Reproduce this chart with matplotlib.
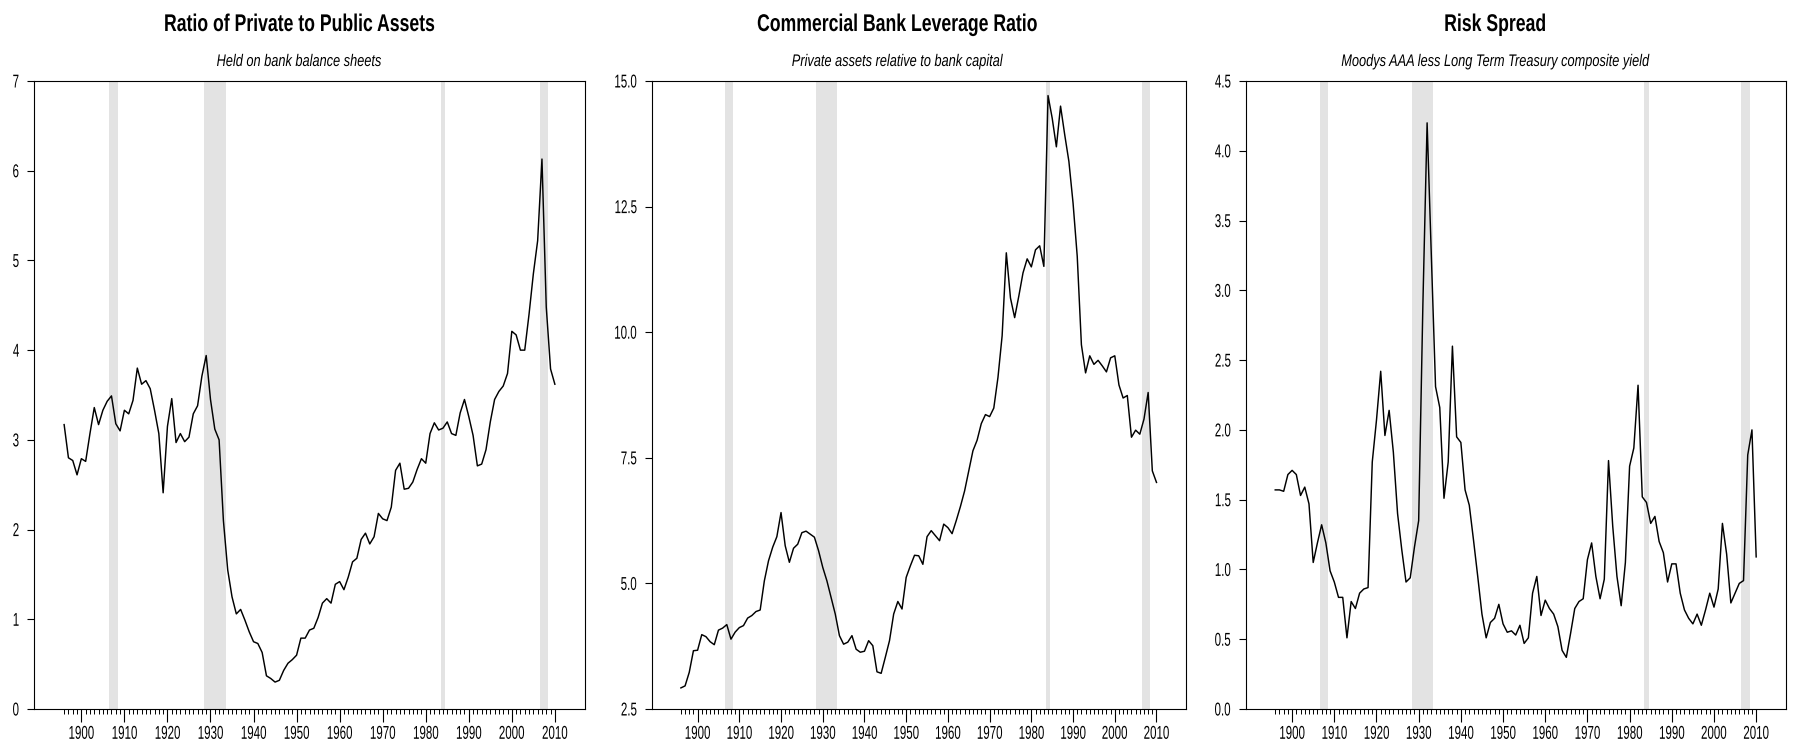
import matplotlib
matplotlib.use("Agg")
import matplotlib.pyplot as plt
from matplotlib.patheffects import AbstractPathEffect
from matplotlib.path import Path
from matplotlib.transforms import Affine2D
from matplotlib.ticker import FixedLocator, FormatStrFormatter

plt.rcParams['font.family'] = ['Liberation Sans', 'DejaVu Sans']

# ---------------------------------------------------------------- data
years = list(range(1896, 2011))

private_public = [
    3.17, 2.80, 2.77, 2.61,
    2.79, 2.76, 3.07, 3.36, 3.17, 3.33, 3.43, 3.49, 3.18, 3.10,
    3.33, 3.29, 3.44, 3.80, 3.62, 3.66, 3.57, 3.33, 3.07, 2.41,
    3.15, 3.46, 2.97, 3.07, 2.98, 3.03, 3.29, 3.38, 3.71, 3.94,
    3.45, 3.12, 3.00, 2.10, 1.55, 1.25, 1.06, 1.11, 0.99, 0.86,
    0.75, 0.73, 0.63, 0.37, 0.34, 0.30, 0.32, 0.43, 0.51, 0.55,
    0.60, 0.79, 0.79, 0.88, 0.90, 1.02, 1.18, 1.23, 1.18, 1.39,
    1.42, 1.33, 1.47, 1.64, 1.68, 1.89, 1.96, 1.84, 1.92, 2.18,
    2.12, 2.10, 2.25, 2.66, 2.74, 2.45, 2.46, 2.53, 2.67, 2.79,
    2.74, 3.07, 3.19, 3.11, 3.13, 3.20, 3.07, 3.05, 3.30, 3.45,
    3.26, 3.05, 2.71, 2.73, 2.89, 3.20, 3.45, 3.54, 3.60, 3.74,
    4.21, 4.17, 4.00, 4.00, 4.40, 4.85, 5.22, 6.13, 4.48, 3.79, 3.62,
]

leverage = [
    2.92, 2.96, 3.23, 3.66,
    3.67, 3.98, 3.94, 3.84, 3.78, 4.07, 4.11, 4.18, 3.89, 4.03,
    4.12, 4.16, 4.31, 4.36, 4.44, 4.47, 5.05, 5.45, 5.72, 5.93,
    6.41, 5.75, 5.42, 5.70, 5.78, 6.01, 6.04, 5.98, 5.92, 5.65,
    5.32, 5.05, 4.72, 4.39, 3.96, 3.79, 3.83, 3.96, 3.69, 3.63,
    3.65, 3.86, 3.76, 3.24, 3.21, 3.53, 3.86, 4.39, 4.64, 4.49,
    5.12, 5.35, 5.56, 5.55, 5.38, 5.93, 6.05, 5.95, 5.85, 6.18,
    6.11, 5.99, 6.25, 6.53, 6.84, 7.24, 7.64, 7.85, 8.18, 8.36,
    8.32, 8.49, 9.10, 9.93, 11.58, 10.68, 10.29, 10.72, 11.18, 11.46,
    11.30, 11.64, 11.72, 11.31, 14.71, 14.26, 13.69, 14.50, 13.93, 13.40,
    12.57, 11.51, 9.75, 9.19, 9.53, 9.36, 9.44, 9.33, 9.21, 9.49,
    9.53, 8.95, 8.69, 8.74, 7.91, 8.05, 7.97, 8.27, 8.80, 7.24, 7.01,
]

risk_spread = [
    1.57, 1.57, 1.56, 1.68,
    1.71, 1.68, 1.53, 1.59, 1.47, 1.05, 1.19, 1.32, 1.19, 0.99,
    0.91, 0.80, 0.80, 0.51, 0.77, 0.72, 0.83, 0.86, 0.87, 1.77,
    2.07, 2.42, 1.96, 2.14, 1.84, 1.40, 1.14, 0.91, 0.94, 1.16,
    1.35, 2.90, 4.20, 3.25, 2.31, 2.16, 1.51, 1.77, 2.60, 1.95,
    1.91, 1.57, 1.46, 1.21, 0.95, 0.68, 0.51, 0.62, 0.65, 0.75,
    0.61, 0.55, 0.56, 0.53, 0.60, 0.47, 0.51, 0.83, 0.95, 0.67,
    0.78, 0.72, 0.68, 0.59, 0.42, 0.37, 0.54, 0.72, 0.77, 0.79,
    1.07, 1.19, 0.95, 0.79, 0.93, 1.78, 1.31, 0.95, 0.74, 1.05,
    1.74, 1.87, 2.32, 1.52, 1.48, 1.33, 1.38, 1.20, 1.12, 0.91,
    1.04, 1.04, 0.83, 0.71, 0.65, 0.61, 0.68, 0.60, 0.71, 0.83,
    0.73, 0.86, 1.33, 1.11, 0.76, 0.83, 0.90, 0.92, 1.82, 2.00, 1.09,
]

# banking-crisis episodes (first year, last year) shaded on every panel
crisis_start = [1907, 1929, 1984, 2007]
crisis_end = [1908, 1933, 1984, 2008]

titles = ["Ratio of Private to Public Assets",
          "Commercial Bank Leverage Ratio",
          "Risk Spread"]
subtitles = ["Held on bank balance sheets",
             "Private assets relative to bank capital",
             "Moodys AAA less Long Term Treasury composite yield"]

y_limits = [(0, 7), (2.5, 15.0), (0.0, 4.5)]
y_steps = [1, 2.5, 0.5]
y_formats = ["%d", "%.1f", "%.1f"]
series = [private_public, leverage, risk_spread]


class Narrow(AbstractPathEffect):
    """Draw text with its glyphs squeezed horizontally (a narrow cut)."""

    def __init__(self, factor=0.82, anchor="center"):
        super().__init__()
        self.factor = factor
        self.anchor = anchor

    def draw_path(self, renderer, gc, tpath, affine, rgbFace=None):
        verts = tpath.vertices
        if tpath.codes is not None:
            verts = verts[tpath.codes != Path.CLOSEPOLY]
        if len(verts):
            xs = verts[:, 0]
            if self.anchor == "right":
                x0 = xs.max()
            elif self.anchor == "left":
                x0 = xs.min()
            else:
                x0 = 0.5 * (xs.min() + xs.max())
        else:
            x0 = 0.0
        squeeze = Affine2D().translate(-x0, 0).scale(self.factor, 1.0).translate(x0, 0)
        renderer.draw_path(gc, tpath, squeeze + affine, rgbFace)


# ---------------------------------------------------------------- figure
W, H = 1794, 748
fig = plt.figure(figsize=(W / 100, H / 100), dpi=100)

# axes boxes in pixels: (left, right)
boxes = [(34, 585), (651.7, 1185.7), (1245.7, 1785.7)]
top_px, bottom_px = 81, 709

TICK_SIZE, TICK_SQUEEZE = 13.4, 0.62
TITLE_SIZE, TITLE_SQUEEZE = 17.4, 0.73
SUB_SIZE, SUB_SQUEEZE = 12.1, 0.76

for i, (left, right) in enumerate(boxes):
    ax = fig.add_axes([left / W, 1 - bottom_px / H,
                       (right - left) / W, (bottom_px - top_px) / H])

    for s, e in zip(crisis_start, crisis_end):
        ax.axvspan(s - 0.5, e + 0.5, color="#e3e3e3", lw=0, zorder=0)

    ax.plot(years, series[i], color="black", lw=1.05, zorder=3)

    ax.set_xlim(1889, 2017)
    lo, hi = y_limits[i]
    ax.set_ylim(lo, hi)

    ax.xaxis.set_major_locator(FixedLocator(list(range(1900, 2011, 10))))
    ax.xaxis.set_minor_locator(FixedLocator(years))
    nt = int(round((hi - lo) / y_steps[i]))
    ax.yaxis.set_major_locator(FixedLocator([lo + k * y_steps[i] for k in range(nt + 1)]))
    ax.yaxis.set_major_formatter(FormatStrFormatter(y_formats[i]))

    ax.tick_params(axis="x", which="major", direction="out", length=9.1,
                   width=0.8, pad=3, labelsize=TICK_SIZE, top=False)
    ax.tick_params(axis="x", which="minor", direction="out", length=3.8,
                   width=0.7, top=False)
    ax.tick_params(axis="y", which="major", direction="out", length=4.7,
                   width=0.8, pad=5.8, labelsize=TICK_SIZE, right=False)

    for lbl in ax.get_xticklabels():
        lbl.set_path_effects([Narrow(TICK_SQUEEZE, "center")])
    for lbl in ax.get_yticklabels():
        lbl.set_path_effects([Narrow(TICK_SQUEEZE, "right")])

    for sp in ax.spines.values():
        sp.set_linewidth(0.8)
        sp.set_color("black")

    cx = (i + 0.5) / 3
    fig.text(cx, 1 - 31 / H, titles[i], ha="center", va="baseline",
             fontsize=TITLE_SIZE, fontweight="bold",
             path_effects=[Narrow(TITLE_SQUEEZE, "center")])
    fig.text(cx, 1 - 66 / H, subtitles[i], ha="center", va="baseline",
             fontsize=SUB_SIZE, fontstyle="italic",
             path_effects=[Narrow(SUB_SQUEEZE, "center")])

fig.savefig("out.png", dpi=100)
